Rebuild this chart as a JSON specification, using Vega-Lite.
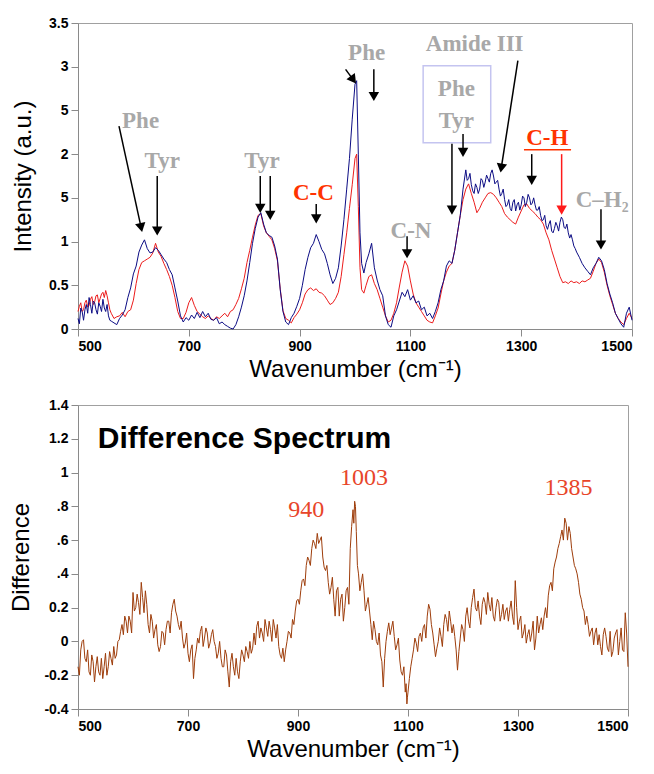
{
"$schema":"https://vega.github.io/schema/vega-lite/v6.json",
"background":"white",
"padding":{"left":8,"top":15,"right":5,"bottom":5},
"spacing":15,
"config":{"view":{"stroke":"#a0a0a0"},"font":"Liberation Sans",
"axis":{"domainColor":"#8a8a8a","tickColor":"#8a8a8a","tickSize":7,"labelFont":"Liberation Sans","labelFontWeight":"bold","labelFontSize":14,"labelColor":"#000000","labelPadding":3,"labelOverlap":false,"titleFont":"Liberation Sans","titleFontWeight":"normal","titleFontSize":24,"titleColor":"#000000","grid":false}},
"datasets":{
"spectra":[
{"w":500,"b":0.12,"r":0.20},{"w":505,"b":0.24,"r":0.30},{"w":510,"b":0.10,"r":0.22},{"w":515,"b":0.28,"r":0.33},{"w":520,"b":0.36,"r":0.27},{"w":525,"b":0.18,"r":0.37},{"w":530,"b":0.30,"r":0.31},{"w":535,"b":0.17,"r":0.39},{"w":540,"b":0.26,"r":0.35},{"w":545,"b":0.34,"r":0.42},{"w":550,"b":0.20,"r":0.44},{"w":555,"b":0.15,"r":0.30},{"w":560,"b":0.09,"r":0.18},{"w":565,"b":0.07,"r":0.12},{"w":570,"b":0.05,"r":0.14},{"w":575,"b":0.12,"r":0.15},{"w":580,"b":0.16,"r":0.19},{"w":585,"b":0.22,"r":0.14},{"w":590,"b":0.36,"r":0.20},{"w":595,"b":0.47,"r":0.22},
{"w":600,"b":0.63,"r":0.33},{"w":605,"b":0.72,"r":0.52},{"w":610,"b":0.88,"r":0.68},{"w":615,"b":0.96,"r":0.76},{"w":620,"b":1.02,"r":0.78},{"w":625,"b":0.92,"r":0.80},{"w":630,"b":0.87,"r":0.82},{"w":635,"b":0.88,"r":0.87},{"w":640,"b":0.93,"r":0.98},{"w":645,"b":0.90,"r":0.88},{"w":650,"b":0.85,"r":0.83},{"w":655,"b":0.80,"r":0.75},{"w":660,"b":0.76,"r":0.68},{"w":665,"b":0.68,"r":0.60},{"w":670,"b":0.62,"r":0.50},{"w":675,"b":0.47,"r":0.36},{"w":680,"b":0.32,"r":0.20},{"w":685,"b":0.15,"r":0.12},{"w":690,"b":0.08,"r":0.12},{"w":695,"b":0.13,"r":0.19},
{"w":700,"b":0.10,"r":0.30},{"w":705,"b":0.16,"r":0.36},{"w":710,"b":0.12,"r":0.27},{"w":715,"b":0.19,"r":0.20},{"w":720,"b":0.13,"r":0.17},{"w":725,"b":0.20,"r":0.14},{"w":730,"b":0.14,"r":0.12},{"w":735,"b":0.18,"r":0.15},{"w":740,"b":0.11,"r":0.12},{"w":745,"b":0.10,"r":0.10},{"w":750,"b":0.13,"r":0.14},{"w":755,"b":0.06,"r":0.12},{"w":760,"b":0.08,"r":0.15},{"w":765,"b":0.05,"r":0.18},{"w":770,"b":0.03,"r":0.14},{"w":775,"b":0.01,"r":0.20},{"w":780,"b":0.00,"r":0.22},{"w":785,"b":0.05,"r":0.28},{"w":790,"b":0.14,"r":0.35},{"w":795,"b":0.25,"r":0.46},
{"w":800,"b":0.38,"r":0.58},{"w":805,"b":0.55,"r":0.76},{"w":810,"b":0.76,"r":0.90},{"w":815,"b":0.98,"r":1.05},{"w":820,"b":1.15,"r":1.19},{"w":825,"b":1.28,"r":1.30},{"w":830,"b":1.33,"r":1.32},{"w":835,"b":1.20,"r":1.18},{"w":840,"b":1.10,"r":1.10},{"w":845,"b":1.07,"r":1.06},{"w":850,"b":1.05,"r":1.02},{"w":855,"b":0.95,"r":0.92},{"w":860,"b":0.80,"r":0.78},{"w":865,"b":0.45,"r":0.46},{"w":870,"b":0.20,"r":0.21},{"w":875,"b":0.08,"r":0.12},{"w":880,"b":0.05,"r":0.10},{"w":885,"b":0.13,"r":0.07},{"w":890,"b":0.18,"r":0.13},{"w":895,"b":0.26,"r":0.17},
{"w":900,"b":0.35,"r":0.22},{"w":905,"b":0.50,"r":0.30},{"w":910,"b":0.68,"r":0.40},{"w":915,"b":0.82,"r":0.45},{"w":920,"b":0.93,"r":0.47},{"w":925,"b":0.98,"r":0.44},{"w":930,"b":1.08,"r":0.46},{"w":935,"b":1.00,"r":0.42},{"w":940,"b":0.91,"r":0.41},{"w":945,"b":0.86,"r":0.38},{"w":950,"b":0.75,"r":0.33},{"w":955,"b":0.62,"r":0.28},{"w":960,"b":0.52,"r":0.30},{"w":965,"b":0.58,"r":0.35},{"w":970,"b":0.70,"r":0.42},{"w":975,"b":0.95,"r":0.60},{"w":980,"b":1.25,"r":0.85},{"w":985,"b":1.60,"r":1.10},{"w":990,"b":1.95,"r":1.38},{"w":995,"b":2.40,"r":1.65},
{"w":1000,"b":2.80,"r":1.95},{"w":1003,"b":2.84,"r":2.00},{"w":1006,"b":2.00,"r":1.40},{"w":1009,"b":1.10,"r":0.70},{"w":1012,"b":0.75,"r":0.45},{"w":1016,"b":0.64,"r":0.41},{"w":1020,"b":0.76,"r":0.50},{"w":1025,"b":0.86,"r":0.60},{"w":1030,"b":0.98,"r":0.62},{"w":1035,"b":0.70,"r":0.52},{"w":1040,"b":0.56,"r":0.45},{"w":1045,"b":0.45,"r":0.35},{"w":1050,"b":0.38,"r":0.25},{"w":1055,"b":0.15,"r":0.15},{"w":1060,"b":0.05,"r":0.08},{"w":1065,"b":0.02,"r":0.10},{"w":1070,"b":0.15,"r":0.18},{"w":1075,"b":0.22,"r":0.30},{"w":1080,"b":0.32,"r":0.48},{"w":1085,"b":0.42,"r":0.65},{"w":1090,"b":0.37,"r":0.78},{"w":1095,"b":0.45,"r":0.72},
{"w":1100,"b":0.33,"r":0.55},{"w":1105,"b":0.38,"r":0.40},{"w":1110,"b":0.30,"r":0.30},{"w":1115,"b":0.32,"r":0.25},{"w":1120,"b":0.22,"r":0.20},{"w":1125,"b":0.25,"r":0.15},{"w":1130,"b":0.15,"r":0.10},{"w":1135,"b":0.18,"r":0.08},{"w":1140,"b":0.12,"r":0.07},{"w":1145,"b":0.20,"r":0.15},{"w":1150,"b":0.30,"r":0.24},{"w":1155,"b":0.45,"r":0.40},{"w":1160,"b":0.55,"r":0.55},{"w":1165,"b":0.72,"r":0.65},{"w":1170,"b":0.78,"r":0.72},{"w":1175,"b":0.75,"r":0.75},{"w":1180,"b":0.90,"r":0.90},{"w":1185,"b":1.10,"r":1.10},{"w":1190,"b":1.30,"r":1.30},{"w":1195,"b":1.60,"r":1.48},
{"w":1200,"b":1.82,"r":1.60},{"w":1205,"b":1.72,"r":1.66},{"w":1210,"b":1.65,"r":1.55},{"w":1215,"b":1.55,"r":1.45},{"w":1220,"b":1.62,"r":1.33},{"w":1225,"b":1.60,"r":1.38},{"w":1230,"b":1.70,"r":1.45},{"w":1235,"b":1.68,"r":1.50},{"w":1240,"b":1.72,"r":1.55},{"w":1245,"b":1.78,"r":1.56},{"w":1250,"b":1.75,"r":1.54},{"w":1255,"b":1.68,"r":1.50},{"w":1260,"b":1.60,"r":1.45},{"w":1265,"b":1.55,"r":1.40},{"w":1270,"b":1.48,"r":1.32},{"w":1275,"b":1.42,"r":1.28},{"w":1280,"b":1.38,"r":1.25},{"w":1285,"b":1.45,"r":1.22},{"w":1290,"b":1.35,"r":1.20},{"w":1295,"b":1.45,"r":1.28},
{"w":1300,"b":1.42,"r":1.35},{"w":1305,"b":1.50,"r":1.42},{"w":1310,"b":1.45,"r":1.43},{"w":1315,"b":1.50,"r":1.38},{"w":1320,"b":1.44,"r":1.35},{"w":1325,"b":1.42,"r":1.32},{"w":1330,"b":1.36,"r":1.28},{"w":1335,"b":1.30,"r":1.25},{"w":1340,"b":1.25,"r":1.20},{"w":1345,"b":1.18,"r":1.10},{"w":1350,"b":1.20,"r":1.02},{"w":1355,"b":1.12,"r":0.90},{"w":1360,"b":1.15,"r":0.80},{"w":1365,"b":1.18,"r":0.70},{"w":1370,"b":1.22,"r":0.60},{"w":1375,"b":1.25,"r":0.53},{"w":1380,"b":1.15,"r":0.54},{"w":1385,"b":1.10,"r":0.52},{"w":1390,"b":1.08,"r":0.55},{"w":1395,"b":0.95,"r":0.53},
{"w":1400,"b":0.88,"r":0.54},{"w":1405,"b":0.82,"r":0.52},{"w":1410,"b":0.75,"r":0.55},{"w":1415,"b":0.70,"r":0.54},{"w":1420,"b":0.66,"r":0.56},{"w":1425,"b":0.62,"r":0.58},{"w":1430,"b":0.70,"r":0.66},{"w":1435,"b":0.75,"r":0.75},{"w":1440,"b":0.82,"r":0.80},{"w":1445,"b":0.78,"r":0.76},{"w":1450,"b":0.68,"r":0.65},{"w":1455,"b":0.52,"r":0.50},{"w":1460,"b":0.40,"r":0.38},{"w":1465,"b":0.30,"r":0.28},{"w":1470,"b":0.18,"r":0.18},{"w":1475,"b":0.12,"r":0.12},{"w":1480,"b":0.06,"r":0.08},{"w":1485,"b":0.02,"r":0.05},{"w":1490,"b":0.18,"r":0.12},{"w":1495,"b":0.25,"r":0.18},{"w":1500,"b":0.10,"r":0.12},
{"w":502.5,"b":0.06,"r":0.26},{"w":507.5,"b":0.20,"r":0.20},{"w":512.5,"b":0.22,"r":0.30},{"w":517.5,"b":0.18,"r":0.25},{"w":522.5,"b":0.28,"r":0.34},{"w":527.5,"b":0.32,"r":0.28},{"w":532.5,"b":0.22,"r":0.38},{"w":537.5,"b":0.30,"r":0.30},{"w":542.5,"b":0.20,"r":0.40},{"w":547.5,"b":0.24,"r":0.36},{"w":552.5,"b":0.28,"r":0.38},{"w":557.5,"b":0.10,"r":0.22},
{"w":1202.5,"b":1.70},{"w":1207.5,"b":1.78},{"w":1212.5,"b":1.58},{"w":1217.5,"b":1.66},{"w":1222.5,"b":1.55},{"w":1227.5,"b":1.72},{"w":1232.5,"b":1.62},{"w":1237.5,"b":1.76},{"w":1242.5,"b":1.68},{"w":1247.5,"b":1.82},{"w":1252.5,"b":1.66},{"w":1257.5,"b":1.70},{"w":1262.5,"b":1.52},{"w":1267.5,"b":1.60},{"w":1272.5,"b":1.40},{"w":1277.5,"b":1.48},{"w":1282.5,"b":1.35},{"w":1287.5,"b":1.48},{"w":1292.5,"b":1.42},{"w":1297.5,"b":1.36},
{"w":1302.5,"b":1.52},{"w":1307.5,"b":1.40},{"w":1312.5,"b":1.54},{"w":1317.5,"b":1.42},{"w":1322.5,"b":1.50},{"w":1327.5,"b":1.36},{"w":1332.5,"b":1.40},{"w":1337.5,"b":1.24},{"w":1342.5,"b":1.30},{"w":1347.5,"b":1.14},{"w":1352.5,"b":1.24},{"w":1357.5,"b":1.10},{"w":1362.5,"b":1.22},{"w":1367.5,"b":1.12},{"w":1372.5,"b":1.28},{"w":1377.5,"b":1.16},{"w":1382.5,"b":1.20},{"w":1387.5,"b":1.04},{"w":1392.5,"b":1.02},{"w":1397.5,"b":0.92}
],
"diff":[
{"w":500,"d":-0.15},{"w":505,"d":-0.05},{"w":510,"d":0.01},{"w":515,"d":-0.12},{"w":520,"d":-0.18},{"w":525,"d":-0.08},{"w":530,"d":-0.24},{"w":535,"d":-0.09},{"w":540,"d":-0.20},{"w":545,"d":-0.22},{"w":550,"d":-0.07},{"w":555,"d":-0.15},{"w":560,"d":-0.10},{"w":565,"d":-0.03},{"w":570,"d":-0.08},{"w":575,"d":0.01},{"w":580,"d":0.10},{"w":585,"d":0.15},{"w":590,"d":0.05},{"w":595,"d":0.12},
{"w":600,"d":0.29},{"w":605,"d":0.20},{"w":610,"d":0.23},{"w":615,"d":0.35},{"w":620,"d":0.17},{"w":625,"d":0.22},{"w":630,"d":0.05},{"w":635,"d":0.12},{"w":640,"d":0.07},{"w":645,"d":-0.02},{"w":650,"d":-0.03},{"w":655,"d":0.05},{"w":660,"d":0.07},{"w":665,"d":0.12},{"w":670,"d":0.17},{"w":675,"d":0.25},{"w":680,"d":0.15},{"w":685,"d":0.07},{"w":690,"d":0.02},{"w":695,"d":-0.01},
{"w":700,"d":-0.07},{"w":705,"d":-0.05},{"w":710,"d":-0.22},{"w":715,"d":-0.05},{"w":720,"d":-0.01},{"w":725,"d":0.09},{"w":730,"d":0.02},{"w":735,"d":0.05},{"w":740,"d":-0.01},{"w":745,"d":0.07},{"w":750,"d":-0.03},{"w":755,"d":-0.07},{"w":760,"d":-0.10},{"w":765,"d":-0.15},{"w":770,"d":-0.08},{"w":775,"d":-0.27},{"w":780,"d":-0.07},{"w":785,"d":-0.20},{"w":790,"d":-0.18},{"w":795,"d":-0.12},
{"w":800,"d":-0.08},{"w":805,"d":-0.03},{"w":810,"d":-0.10},{"w":815,"d":-0.07},{"w":820,"d":0.05},{"w":825,"d":0.09},{"w":830,"d":0.02},{"w":835,"d":0.05},{"w":840,"d":0.13},{"w":845,"d":0.03},{"w":850,"d":0.07},{"w":855,"d":0.13},{"w":860,"d":0.02},{"w":865,"d":-0.03},{"w":870,"d":-0.10},{"w":875,"d":-0.12},{"w":880,"d":0.00},{"w":885,"d":0.05},{"w":890,"d":0.13},{"w":895,"d":0.18},
{"w":900,"d":0.25},{"w":905,"d":0.30},{"w":910,"d":0.37},{"w":915,"d":0.45},{"w":920,"d":0.48},{"w":925,"d":0.55},{"w":930,"d":0.58},{"w":935,"d":0.64},{"w":940,"d":0.60},{"w":945,"d":0.50},{"w":950,"d":0.42},{"w":955,"d":0.35},{"w":960,"d":0.32},{"w":965,"d":0.25},{"w":970,"d":0.30},{"w":975,"d":0.15},{"w":980,"d":0.28},{"w":985,"d":0.20},{"w":990,"d":0.32},{"w":995,"d":0.55},
{"w":1000,"d":0.78},{"w":1003,"d":0.83},{"w":1006,"d":0.65},{"w":1010,"d":0.40},{"w":1015,"d":0.35},{"w":1020,"d":0.30},{"w":1025,"d":0.22},{"w":1030,"d":0.18},{"w":1035,"d":0.01},{"w":1040,"d":0.07},{"w":1045,"d":-0.02},{"w":1050,"d":-0.08},{"w":1055,"d":-0.27},{"w":1060,"d":0.00},{"w":1065,"d":0.11},{"w":1070,"d":0.08},{"w":1075,"d":0.03},{"w":1080,"d":-0.02},{"w":1085,"d":-0.11},{"w":1090,"d":-0.20},{"w":1095,"d":-0.30},{"w":1098,"d":-0.37},
{"w":1100,"d":-0.30},{"w":1105,"d":-0.15},{"w":1110,"d":-0.05},{"w":1115,"d":-0.01},{"w":1120,"d":0.03},{"w":1125,"d":0.00},{"w":1130,"d":0.10},{"w":1135,"d":0.15},{"w":1140,"d":0.19},{"w":1145,"d":0.05},{"w":1150,"d":-0.09},{"w":1155,"d":0.00},{"w":1160,"d":0.03},{"w":1165,"d":0.10},{"w":1170,"d":0.13},{"w":1175,"d":0.18},{"w":1180,"d":0.05},{"w":1185,"d":0.03},{"w":1190,"d":-0.17},{"w":1195,"d":0.02},
{"w":1200,"d":0.07},{"w":1205,"d":0.15},{"w":1210,"d":0.12},{"w":1215,"d":0.20},{"w":1220,"d":0.31},{"w":1225,"d":0.18},{"w":1230,"d":0.15},{"w":1235,"d":0.22},{"w":1240,"d":0.23},{"w":1245,"d":0.29},{"w":1250,"d":0.18},{"w":1255,"d":0.15},{"w":1260,"d":0.20},{"w":1265,"d":0.23},{"w":1270,"d":0.16},{"w":1275,"d":0.13},{"w":1280,"d":0.20},{"w":1285,"d":0.19},{"w":1290,"d":0.15},{"w":1295,"d":0.36},
{"w":1300,"d":0.07},{"w":1305,"d":0.15},{"w":1310,"d":0.05},{"w":1315,"d":-0.01},{"w":1320,"d":0.07},{"w":1325,"d":0.05},{"w":1330,"d":-0.05},{"w":1335,"d":0.15},{"w":1340,"d":0.10},{"w":1345,"d":0.07},{"w":1350,"d":0.20},{"w":1355,"d":0.27},{"w":1360,"d":0.35},{"w":1365,"d":0.43},{"w":1370,"d":0.50},{"w":1375,"d":0.58},{"w":1380,"d":0.66},{"w":1385,"d":0.73},{"w":1390,"d":0.60},{"w":1395,"d":0.64},
{"w":1400,"d":0.50},{"w":1405,"d":0.43},{"w":1410,"d":0.35},{"w":1415,"d":0.25},{"w":1420,"d":0.18},{"w":1425,"d":0.15},{"w":1430,"d":0.03},{"w":1435,"d":0.08},{"w":1440,"d":0.05},{"w":1445,"d":-0.02},{"w":1450,"d":-0.03},{"w":1455,"d":0.04},{"w":1460,"d":0.03},{"w":1465,"d":-0.06},{"w":1470,"d":-0.09},{"w":1475,"d":0.02},{"w":1480,"d":0.07},{"w":1485,"d":0.00},{"w":1490,"d":-0.05},{"w":1495,"d":0.17},{"w":1500,"d":-0.15},
{"w":502.5,"d":-0.2},{"w":507.5,"d":0.0},{"w":512.5,"d":-0.1},{"w":517.5,"d":-0.05},{"w":522.5,"d":-0.2},{"w":527.5,"d":-0.12},{"w":532.5,"d":-0.15},{"w":537.5,"d":-0.18},{"w":542.5,"d":-0.1},{"w":547.5,"d":-0.15},{"w":552.5,"d":-0.2},{"w":557.5,"d":-0.06},{"w":562.5,"d":-0.14},{"w":567.5,"d":-0.1},{"w":572.5,"d":0.0},{"w":577.5,"d":0.06},{"w":582.5,"d":0.04},{"w":587.5,"d":0.12},{"w":592.5,"d":0.15},{"w":597.5,"d":0.05},
{"w":602.5,"d":0.18},{"w":607.5,"d":0.28},{"w":612.5,"d":0.16},{"w":617.5,"d":0.26},{"w":622.5,"d":0.3},{"w":627.5,"d":0.1},{"w":632.5,"d":0.16},{"w":637.5,"d":0.02},{"w":642.5,"d":0.1},{"w":647.5,"d":-0.06},{"w":652.5,"d":0.06},{"w":657.5,"d":-0.02},{"w":662.5,"d":0.12},{"w":667.5,"d":0.05},{"w":672.5,"d":0.22},{"w":677.5,"d":0.18},{"w":682.5,"d":0.1},{"w":687.5,"d":0.12},{"w":692.5,"d":-0.04},{"w":697.5,"d":0.05},
{"w":702.5,"d":-0.12},{"w":707.5,"d":-0.02},{"w":712.5,"d":-0.1},{"w":717.5,"d":0.02},{"w":722.5,"d":0.06},{"w":727.5,"d":-0.03},{"w":732.5,"d":0.08},{"w":737.5,"d":-0.04},{"w":742.5,"d":0.04},{"w":747.5,"d":0.0},{"w":752.5,"d":-0.1},{"w":757.5,"d":0.0},{"w":762.5,"d":-0.15},{"w":767.5,"d":-0.05},{"w":772.5,"d":-0.18},{"w":777.5,"d":-0.12},{"w":782.5,"d":-0.15},{"w":787.5,"d":-0.1},{"w":792.5,"d":-0.22},{"w":797.5,"d":-0.05},
{"w":802.5,"d":-0.12},{"w":807.5,"d":-0.06},{"w":812.5,"d":0.0},{"w":817.5,"d":-0.04},{"w":822.5,"d":-0.02},{"w":827.5,"d":0.12},{"w":832.5,"d":0.08},{"w":837.5,"d":0.0},{"w":842.5,"d":0.08},{"w":847.5,"d":0.12},{"w":852.5,"d":0.0},{"w":857.5,"d":0.08},{"w":862.5,"d":0.1},{"w":867.5,"d":-0.08},{"w":872.5,"d":-0.04},{"w":877.5,"d":-0.05},{"w":882.5,"d":0.06},{"w":887.5,"d":0.02},{"w":892.5,"d":0.1},{"w":897.5,"d":0.24},
{"w":902.5,"d":0.22},{"w":907.5,"d":0.36},{"w":912.5,"d":0.33},{"w":917.5,"d":0.5},{"w":922.5,"d":0.45},{"w":927.5,"d":0.6},{"w":932.5,"d":0.55},{"w":937.5,"d":0.58},{"w":942.5,"d":0.62},{"w":947.5,"d":0.44},{"w":952.5,"d":0.45},{"w":957.5,"d":0.28},{"w":962.5,"d":0.38},{"w":967.5,"d":0.15},{"w":972.5,"d":0.32},{"w":977.5,"d":0.25},{"w":982.5,"d":0.12},{"w":987.5,"d":0.3},{"w":992.5,"d":0.22},{"w":997.5,"d":0.68},
{"w":1001.5,"d":0.7},{"w":1004.5,"d":0.8},{"w":1008,"d":0.45},{"w":1012.5,"d":0.3},{"w":1017.5,"d":0.4},{"w":1022.5,"d":0.18},{"w":1027.5,"d":0.26},{"w":1032.5,"d":0.1},{"w":1037.5,"d":0.12},{"w":1042.5,"d":0.0},{"w":1047.5,"d":0.05},{"w":1052.5,"d":-0.12},{"w":1057.5,"d":-0.1},{"w":1062.5,"d":0.06},{"w":1067.5,"d":0.04},{"w":1072.5,"d":0.12},{"w":1077.5,"d":-0.05},{"w":1082.5,"d":0.02},{"w":1087.5,"d":-0.18},{"w":1092.5,"d":-0.15},{"w":1096.5,"d":-0.25},{"w":1099,"d":-0.33},
{"w":1102.5,"d":-0.22},{"w":1107.5,"d":-0.1},{"w":1112.5,"d":0.02},{"w":1117.5,"d":-0.06},{"w":1122.5,"d":0.05},{"w":1127.5,"d":0.08},{"w":1132.5,"d":0.02},{"w":1137.5,"d":0.22},{"w":1142.5,"d":0.1},{"w":1147.5,"d":-0.02},{"w":1152.5,"d":-0.04},{"w":1157.5,"d":0.08},{"w":1162.5,"d":-0.03},{"w":1167.5,"d":0.16},{"w":1172.5,"d":0.06},{"w":1177.5,"d":0.12},{"w":1182.5,"d":0.1},{"w":1187.5,"d":-0.05},{"w":1192.5,"d":-0.06},{"w":1197.5,"d":0.1},
{"w":1202.5,"d":0.0},{"w":1207.5,"d":0.2},{"w":1212.5,"d":0.08},{"w":1217.5,"d":0.26},{"w":1222.5,"d":0.2},{"w":1227.5,"d":0.24},{"w":1232.5,"d":0.1},{"w":1237.5,"d":0.26},{"w":1242.5,"d":0.16},{"w":1247.5,"d":0.22},{"w":1252.5,"d":0.26},{"w":1257.5,"d":0.12},{"w":1262.5,"d":0.25},{"w":1267.5,"d":0.12},{"w":1272.5,"d":0.22},{"w":1277.5,"d":0.18},{"w":1282.5,"d":0.12},{"w":1287.5,"d":0.24},{"w":1292.5,"d":0.1},{"w":1297.5,"d":0.2},
{"w":1302.5,"d":0.12},{"w":1307.5,"d":0.02},{"w":1312.5,"d":0.1},{"w":1317.5,"d":0.04},{"w":1322.5,"d":0.0},{"w":1327.5,"d":0.12},{"w":1332.5,"d":0.02},{"w":1337.5,"d":0.05},{"w":1342.5,"d":0.14},{"w":1347.5,"d":0.15},{"w":1352.5,"d":0.14},{"w":1357.5,"d":0.33},{"w":1362.5,"d":0.3},{"w":1367.5,"d":0.47},{"w":1372.5,"d":0.55},{"w":1377.5,"d":0.62},{"w":1382.5,"d":0.6},{"w":1387.5,"d":0.7},{"w":1392.5,"d":0.68},{"w":1397.5,"d":0.55},
{"w":1402.5,"d":0.45},{"w":1407.5,"d":0.4},{"w":1412.5,"d":0.28},{"w":1417.5,"d":0.2},{"w":1422.5,"d":0.1},{"w":1427.5,"d":0.1},{"w":1432.5,"d":0.06},{"w":1437.5,"d":-0.02},{"w":1442.5,"d":0.08},{"w":1447.5,"d":0.04},{"w":1452.5,"d":-0.08},{"w":1457.5,"d":0.08},{"w":1462.5,"d":-0.04},{"w":1467.5,"d":0.06},{"w":1472.5,"d":-0.06},{"w":1477.5,"d":0.05},{"w":1482.5,"d":-0.08},{"w":1487.5,"d":0.08},{"w":1492.5,"d":-0.06},{"w":1497.5,"d":0.05}
],
"arrows":[
{"w1":574,"v1":2.32,"w2":614,"v2":1.16,"k":"k"},
{"w1":643,"v1":1.75,"w2":643,"v2":1.12,"k":"k"},
{"w1":829,"v1":1.75,"w2":829,"v2":1.38,"k":"k"},
{"w1":847,"v1":1.75,"w2":847,"v2":1.30,"k":"k"},
{"w1":930,"v1":1.43,"w2":930,"v2":1.26,"k":"k"},
{"w1":983,"v1":2.97,"w2":997,"v2":2.85,"k":"k"},
{"w1":1034,"v1":2.97,"w2":1034,"v2":2.66,"k":"k"},
{"w1":1094,"v1":1.06,"w2":1094,"v2":0.86,"k":"k"},
{"w1":1175,"v1":2.12,"w2":1175,"v2":1.36,"k":"k"},
{"w1":1195,"v1":2.23,"w2":1195,"v2":2.02,"k":"k"},
{"w1":1294,"v1":3.07,"w2":1264,"v2":1.84,"k":"k"},
{"w1":1319,"v1":2.0,"w2":1319,"v2":1.70,"k":"k"},
{"w1":1373,"v1":2.0,"w2":1373,"v2":1.36,"k":"r"},
{"w1":1444,"v1":1.37,"w2":1444,"v2":0.96,"k":"k"}
],
"labels":[
{"w":613,"v":2.38,"t":"Phe","k":"g"},
{"w":652,"v":1.92,"t":"Tyr","k":"g"},
{"w":832,"v":1.92,"t":"Tyr","k":"g"},
{"w":925,"v":1.55,"t":"C-C","k":"r"},
{"w":1021,"v":3.16,"t":"Phe","k":"g"},
{"w":1216,"v":3.26,"t":"Amide III","k":"g"},
{"w":1183,"v":2.75,"t":"Phe","k":"g"},
{"w":1183,"v":2.38,"t":"Tyr","k":"g"},
{"w":1347,"v":2.18,"t":"C-H","k":"r"},
{"w":1446,"v":1.48,"t":"C–H₂","k":"g"},
{"w":1101,"v":1.12,"t":"C-N","k":"g"}
]
},
"vconcat":[
{
"width":554,"height":306,
"layer":[
{"data":{"name":"spectra"},"mark":{"type":"line","color":"#ec1c1c","strokeWidth":1,"invalid":"filter"},
"encoding":{
"x":{"field":"w","type":"quantitative","scale":{"domain":[500,1500],"nice":false,"zero":false},"axis":{"values":[500,700,900,1100,1300,1500],"format":"d","title":"Wavenumber (cm⁻¹)","titlePadding":4,"labelOverlap":false}},
"y":{"field":"r","type":"quantitative","scale":{"domain":[0,3.5],"nice":false},"axis":{"values":[0,0.5,1,1.5,2,2.5,3,3.5],"labelOverlap":false,"labelExpr":"datum.value==1.5||datum.value==2.5 ? '5' : format(datum.value,'~g')","title":"Intensity (a.u.)","titleX":-55,"titleBaseline":"middle"}}}},
{"data":{"name":"spectra"},"mark":{"type":"line","color":"#0c0c84","strokeWidth":1,"invalid":"filter"},
"encoding":{"x":{"field":"w","type":"quantitative"},"y":{"field":"b","type":"quantitative"}}},
{"data":{"values":[{"w1":1123,"w2":1245,"v1":2.13,"v2":3.01}]},"mark":{"type":"rect","fill":"white","fillOpacity":0,"stroke":"#c4c4f0","strokeWidth":1.5},
"encoding":{"x":{"field":"w1","type":"quantitative"},"x2":{"field":"w2"},"y":{"field":"v1","type":"quantitative"},"y2":{"field":"v2"}}},
{"data":{"name":"arrows"},"mark":{"type":"rule","strokeWidth":1.5},
"encoding":{"x":{"field":"w1","type":"quantitative"},"x2":{"field":"w2"},"y":{"field":"v1","type":"quantitative"},"y2":{"field":"v2"},
"color":{"field":"k","type":"nominal","scale":{"domain":["k","r"],"range":["#000000","#ff1a1a"]},"legend":null}}},
{"data":{"name":"arrows"},"transform":[{"calculate":"(atan2(-(datum.w2-datum.w1)*0.554,(datum.v1-datum.v2)*87.4)*180/PI+360)%360","as":"a"}],
"mark":{"type":"point","shape":"triangle-down","filled":true,"size":110,"opacity":1},
"encoding":{"x":{"field":"w2","type":"quantitative"},"y":{"field":"v2","type":"quantitative"},
"angle":{"field":"a","type":"quantitative","scale":{"domain":[0,360],"range":[0,360]}},
"color":{"field":"k","type":"nominal","scale":{"domain":["k","r"],"range":["#000000","#ff1a1a"]},"legend":null}}},
{"data":{"values":[{"w1":1305,"w2":1390,"v":2.05}]},"mark":{"type":"rule","color":"#ff3300","strokeWidth":1.5},
"encoding":{"x":{"field":"w1","type":"quantitative"},"x2":{"field":"w2"},"y":{"field":"v","type":"quantitative"}}},
{"data":{"name":"labels"},"transform":[{"filter":"datum.k=='g'"}],"mark":{"type":"text","font":"Liberation Serif","fontWeight":"bold","fontSize":23,"color":"#a8a8a8","align":"center","baseline":"middle"},
"encoding":{"x":{"field":"w","type":"quantitative"},"y":{"field":"v","type":"quantitative"},"text":{"field":"t"}}},
{"data":{"name":"labels"},"transform":[{"filter":"datum.k=='r'"}],"mark":{"type":"text","font":"Liberation Serif","fontWeight":"bold","fontSize":23,"color":"#ff3300","align":"center","baseline":"middle"},
"encoding":{"x":{"field":"w","type":"quantitative"},"y":{"field":"v","type":"quantitative"},"text":{"field":"t"}}}
]
},
{
"width":550,"height":304,
"layer":[
{"data":{"name":"diff"},"mark":{"type":"line","color":"#9e3d0b","strokeWidth":1},
"encoding":{
"x":{"field":"w","type":"quantitative","scale":{"domain":[500,1500],"nice":false,"zero":false},"axis":{"values":[500,700,900,1100,1300,1500],"format":"d","title":"Wavenumber (cm⁻¹)","titlePadding":4,"labelOverlap":false}},
"y":{"field":"d","type":"quantitative","scale":{"domain":[-0.4,1.4],"nice":false,"zero":false},"axis":{"tickCount":10,"labelOverlap":false,"labelExpr":"(datum.value<-0.01?'-':'') + (abs(datum.value-0.4)<0.01||abs(datum.value-0.6)<0.01||abs(datum.value-0.8)<0.01 ? replace(format(datum.value,'.1f'),'0.','.') : format(abs(datum.value),'~g'))","title":"Difference","titleX":-57,"titleBaseline":"middle"}}}},
{"data":{"values":[{"w":536,"v":1.2,"t":"Difference Spectrum"}]},"mark":{"type":"text","font":"Liberation Sans","fontWeight":"bold","fontSize":30,"color":"#000000","align":"left","baseline":"middle"},
"encoding":{"x":{"field":"w","type":"quantitative"},"y":{"field":"v","type":"quantitative"},"text":{"field":"t"}}},
{"data":{"values":[{"w":915,"v":0.78,"t":"940"},{"w":1020,"v":0.97,"t":"1003"},{"w":1392,"v":0.91,"t":"1385"}]},"mark":{"type":"text","font":"Liberation Serif","fontSize":24,"color":"#e8452a","align":"center","baseline":"middle"},
"encoding":{"x":{"field":"w","type":"quantitative"},"y":{"field":"v","type":"quantitative"},"text":{"field":"t"}}}
]
}
]
}
